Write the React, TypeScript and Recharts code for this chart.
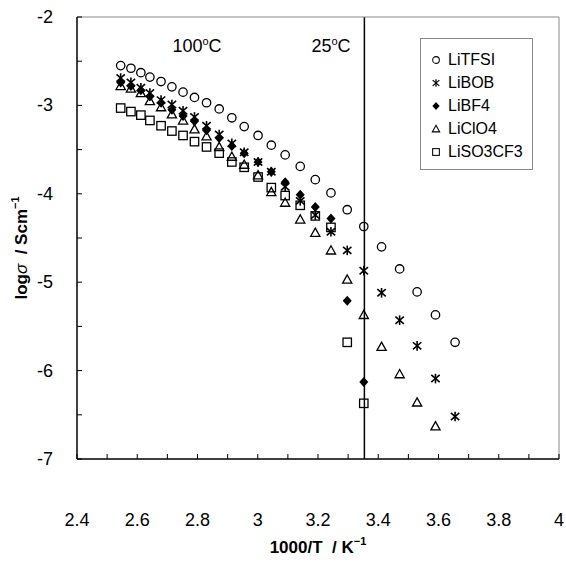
import React from 'react';
import { ScatterChart, Scatter, XAxis, YAxis, ReferenceLine, Legend } from 'recharts';

// 1000/T values (K^-1), 120 °C down to 0 °C in 5 °C steps
const invT = [2.545, 2.579, 2.612, 2.642, 2.679, 2.715, 2.752, 2.790, 2.830, 2.872, 2.914, 2.955, 3.001, 3.045, 3.091, 3.141, 3.191, 3.243, 3.297, 3.352, 3.411, 3.471, 3.529, 3.590, 3.655];

// log sigma values per salt
const liTFSI = [-2.55, -2.58, -2.63, -2.68, -2.73, -2.79, -2.85, -2.91, -2.97, -3.04, -3.14, -3.24, -3.34, -3.45, -3.56, -3.69, -3.84, -3.99, -4.18, -4.37, -4.60, -4.85, -5.11, -5.37, -5.68];
const liBOB = [-2.69, -2.74, -2.80, -2.86, -2.94, -2.99, -3.06, -3.13, -3.23, -3.33, -3.43, -3.53, -3.64, -3.75, -3.92, -4.08, -4.24, -4.43, -4.64, -4.87, -5.12, -5.43, -5.72, -6.09, -6.52];
const liBF4 = [-2.74, -2.78, -2.83, -2.90, -2.97, -3.05, -3.12, -3.18, -3.28, -3.37, -3.46, -3.54, -3.64, -3.75, -3.87, -4.01, -4.15, -4.28, -5.21, -6.13];
const liClO4 = [-2.78, -2.81, -2.86, -2.95, -3.02, -3.10, -3.17, -3.27, -3.35, -3.47, -3.58, -3.67, -3.79, -3.98, -4.10, -4.29, -4.44, -4.64, -4.97, -5.37, -5.73, -6.04, -6.36, -6.63];
const liSO3CF3 = [-3.03, -3.07, -3.11, -3.17, -3.23, -3.29, -3.34, -3.41, -3.47, -3.54, -3.64, -3.70, -3.81, -3.93, -4.02, -4.13, -4.25, -4.38, -5.68, -6.37];

const seriesNames = ['LiTFSI', 'LiBOB', 'LiBF4', 'LiClO4', 'LiSO3CF3'];

const xTicks = [2.4, 2.5, 2.6, 2.7, 2.8, 2.9, 3.0, 3.1, 3.2, 3.3, 3.4, 3.5, 3.6, 3.7, 3.8, 3.9, 4.0];
const xTickLabels = ['2.4', '', '2.6', '', '2.8', '', '3', '', '3.2', '', '3.4', '', '3.6', '', '3.8', '', '4'];
const yTicks = [-7, -6.5, -6, -5.5, -5, -4.5, -4, -3.5, -3, -2.5, -2];
const yTickLabels = ['-7', '', '-6', '', '-5', '', '-4', '', '-3', '', '-2'];

const roomTempInvT = 3.354;

const FONT = '"Liberation Sans", Arial, Helvetica, sans-serif';

const toPoints = (vals: number[]) => vals.map((y, i) => ({ x: invT[i], y }));

const SW = 1.3;

const CircleShape = (p: any) => (
  <circle cx={p.cx} cy={p.cy} r={4.2} fill="none" stroke="#000" strokeWidth={SW} />
);
const AsteriskShape = (p: any) => {
  const { cx, cy } = p;
  return (
    <g stroke="#000" strokeWidth={1.6}>
      <line x1={cx} y1={cy - 4.8} x2={cx} y2={cy + 4.8} />
      <line x1={cx - 4.2} y1={cy - 3.6} x2={cx + 4.2} y2={cy + 3.6} />
      <line x1={cx - 4.2} y1={cy + 3.6} x2={cx + 4.2} y2={cy - 3.6} />
    </g>
  );
};
const DiamondShape = (p: any) => {
  const { cx, cy } = p;
  return <polygon points={`${cx},${cy - 5} ${cx + 4.5},${cy} ${cx},${cy + 5} ${cx - 4.5},${cy}`} fill="#000" />;
};
const TriangleShape = (p: any) => {
  const { cx, cy } = p;
  return <polygon points={`${cx},${cy - 4.6} ${cx + 4.6},${cy + 3.6} ${cx - 4.6},${cy + 3.6}`} fill="none" stroke="#000" strokeWidth={SW} />;
};
const SquareShape = (p: any) => (
  <rect x={p.cx - 4.2} y={p.cy - 4.2} width={8.4} height={8.4} fill="none" stroke="#000" strokeWidth={SW} />
);

const shapes = [CircleShape, AsteriskShape, DiamondShape, TriangleShape, SquareShape];
const seriesData = [liTFSI, liBOB, liBF4, liClO4, liSO3CF3].map(toPoints);

const XTick = (props: any) => {
  const { x, y, payload } = props;
  const idx = xTicks.findIndex((t) => Math.abs(t - payload.value) < 1e-6);
  const label = idx >= 0 ? xTickLabels[idx] : '';
  return (
    <g>
      <line x1={x} x2={x} y1={y} y2={y - 5} stroke="#000" strokeWidth={1} />
      {label && (
        <text x={x} y={y + 67} textAnchor="middle" fontSize={18} fontFamily={FONT} fill="#000">
          {label}
        </text>
      )}
    </g>
  );
};

const YTick = (props: any) => {
  const { x, y, payload } = props;
  const idx = yTicks.findIndex((t) => Math.abs(t - payload.value) < 1e-6);
  const label = idx >= 0 ? yTickLabels[idx] : '';
  return (
    <g>
      <line x1={x} x2={x + 5} y1={y} y2={y} stroke="#000" strokeWidth={1} />
      {label && (
        <text x={x - 24} y={y + 6} textAnchor="end" fontSize={18} fontFamily={FONT} fill="#000">
          {label}
        </text>
      )}
    </g>
  );
};

const LegendMarker = ({ i }: { i: number }) => {
  const S = shapes[i];
  return (
    <svg width={14} height={14} style={{ display: 'block' }}>
      <g transform="scale(0.8) translate(1.75,1.75)">
        <S cx={7} cy={7} />
      </g>
    </svg>
  );
};

const renderLegend = () => (
  <div
    style={{
      border: '1px solid #888',
      padding: '9px 0 6px 8px',
      background: '#fff',
      fontFamily: FONT,
      fontSize: 16,
      color: '#000',
      boxSizing: 'border-box',
      width: 113,
    }}
  >
    {seriesNames.map((n, i) => (
      <div key={n} style={{ display: 'flex', alignItems: 'center', height: 23 }}>
        <LegendMarker i={i} />
        <span style={{ marginLeft: 5 }}>{n}</span>
      </div>
    ))}
  </div>
);

export default function App() {
  return (
    <div style={{ position: 'absolute', left: 0, top: 0, width: 566, height: 562, background: '#fff' }}>
      <ScatterChart width={566} height={562} margin={{ top: 16, right: 6, bottom: 102, left: 76 }}>
        <XAxis
          xAxisId="top"
          orientation="top"
          type="number"
          domain={[2.4, 4]}
          height={1}
          tick={false}
          tickLine={false}
          axisLine={{ stroke: '#888', strokeWidth: 1 }}
        />
        <YAxis
          yAxisId="right"
          orientation="right"
          type="number"
          domain={[-7, -2]}
          width={1}
          tick={false}
          tickLine={false}
          axisLine={{ stroke: '#888', strokeWidth: 1 }}
        />
        <XAxis
          dataKey="x"
          type="number"
          domain={[2.4, 4]}
          ticks={xTicks}
          interval={0}
          height={1}
          tickSize={0}
          tickMargin={0}
          tickLine={false}
          axisLine={{ stroke: '#000', strokeWidth: 1.5 }}
          tick={<XTick />}
        />
        <YAxis
          dataKey="y"
          type="number"
          domain={[-7, -2]}
          ticks={yTicks}
          interval={0}
          width={1}
          tickSize={0}
          tickMargin={0}
          tickLine={false}
          axisLine={{ stroke: '#000', strokeWidth: 1.5 }}
          tick={<YTick />}
        />
        <ReferenceLine x={roomTempInvT} stroke="#000" strokeWidth={1.5} />
        {seriesData.map((d, i) => (
          <Scatter
            key={seriesNames[i]}
            name={seriesNames[i]}
            data={d}
            shape={shapes[i]}
            isAnimationActive={false}
          />
        ))}
        <Legend
          layout="vertical"
          align="center"
          verticalAlign="middle"
          content={renderLegend}
          wrapperStyle={{ position: 'absolute', left: 420, top: 38, width: 113, height: 'auto' }}
        />
      </ScatterChart>
      <svg
        width={566}
        height={562}
        style={{ position: 'absolute', left: 0, top: 0, pointerEvents: 'none' }}
        fontFamily={FONT}
      >
        <text x={197} y={52} textAnchor="middle" fontSize={18}>
          100<tspan fontSize={11} dy={-7}>o</tspan><tspan dy={7}>C</tspan>
        </text>
        <text x={331} y={52} textAnchor="middle" fontSize={18}>
          25<tspan fontSize={11} dy={-7}>o</tspan><tspan dy={7}>C</tspan>
        </text>
        <text x={318} y={553} textAnchor="middle" fontSize={17} fontWeight="bold">
          1000/T{'\u00a0\u00a0'}/ K<tspan fontSize={11} dy={-8}>−1</tspan>
        </text>
        <text
          transform="translate(27,248) rotate(-90)"
          textAnchor="middle"
          fontSize={17}
          fontWeight="bold"
        >
          log<tspan fontWeight="normal" fontStyle="italic">σ</tspan>{'\u00a0\u00a0'}/ Scm<tspan fontSize={11} dy={-8}>−1</tspan>
        </text>
      </svg>
    </div>
  );
}
